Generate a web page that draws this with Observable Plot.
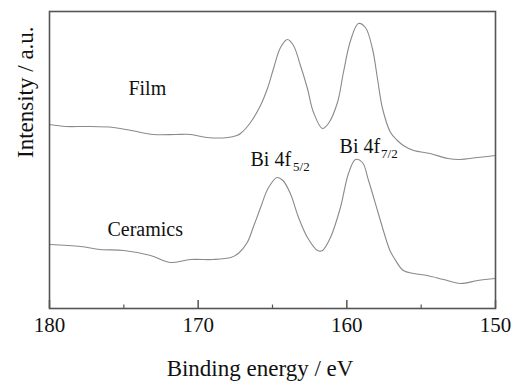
<!DOCTYPE html>
<html>
<head>
<meta charset="utf-8">
<script src="https://cdn.jsdelivr.net/npm/d3@7"></script>
<script src="https://cdn.jsdelivr.net/npm/@observablehq/plot@0.6"></script>
<style>
  html, body { margin: 0; padding: 0; background: #fff; }
  svg text { font-family: 'Liberation Serif', 'Times New Roman', Times, serif; }
</style>
</head>
<body>
<div id="chart"></div>
<script>
// Film spectrum: binding energy (eV) and intensity (a.u.)
const filmEnergy = [180.0, 178.9, 177.5, 175.7, 174.5, 173.0, 171.5, 170.5, 169.4, 168.0, 167.4, 167.15, 166.48, 165.81, 165.34, 164.93, 164.46, 163.99, 163.59, 163.12, 162.65, 162.24, 161.64, 161.24, 160.63, 160.23, 159.75, 159.22, 158.75, 158.28, 157.94, 157.60, 157.06, 156.6, 156.2, 155.5, 154.4, 153.2, 152.4, 151.2, 150.0];
const filmIntensity = [184, 182, 182, 181, 178, 174, 174, 174, 171, 171, 173, 175, 186, 203, 220, 240, 261, 269, 263, 243, 220, 196, 180, 185, 206, 236, 268, 285, 281, 260, 230, 200, 176, 168, 163, 158, 155, 150, 149, 151, 153];

// Ceramics spectrum
const ceramicsEnergy = [180.0, 177.9, 176.6, 175.0, 173.2, 171.9, 170.5, 169.0, 167.8, 167.3, 166.7, 166.3, 165.8, 165.3, 164.7, 164.3, 163.8, 163.25, 162.65, 161.97, 161.64, 161.10, 160.43, 159.89, 159.42, 158.95, 158.54, 157.94, 157.40, 157.1, 156.8, 156.2, 155.5, 154.6, 153.5, 152.35, 151.2, 150.0];
const ceramicsIntensity = [64, 62, 59, 58, 53, 46, 49, 49, 51, 55, 66, 81, 101, 120, 131, 128, 115, 91, 71, 58, 58, 71, 101, 135, 149, 146, 128, 98, 71, 58, 50, 38, 35, 33, 29, 25, 28, 30];

// Axis ticks
const majorTicks = [180, 170, 160, 150];
const minorTicks = [175, 165, 155];

// Curve labels (energy, intensity at text baseline)
const curveLabels = ["Film", "Ceramics"];
const curveLabelEnergy = [174.69, 176.10];
const curveLabelIntensity = [214, 73];

// Peak labels: main text and subscript
const peakLabels = ["Bi 4f", "Bi 4f"];
const peakLabelEnergy = [166.48, 160.49];
const peakLabelIntensity = [143, 156];
const peakSubs = ["5/2", "7/2"];
const peakSubEnergy = [163.62, 157.70];
const peakSubIntensity = [138, 151];

const film = filmEnergy.map((e, i) => ({e, v: filmIntensity[i]}));
const ceramics = ceramicsEnergy.map((e, i) => ({e, v: ceramicsIntensity[i]}));
const cLabels = curveLabels.map((t, i) => ({t, e: curveLabelEnergy[i], v: curveLabelIntensity[i]}));
const pLabels = peakLabels.map((t, i) => ({t, e: peakLabelEnergy[i], v: peakLabelIntensity[i]}));
const pSubs = peakSubs.map((t, i) => ({t, e: peakSubEnergy[i], v: peakSubIntensity[i]}));

const serif = "'Liberation Serif', 'Times New Roman', Times, serif";
const curveColor = "#8a8a8a";
const frameColor = "#555";

const chart = Plot.plot({
  width: 512,
  height: 381,
  marginLeft: 49,
  marginRight: 17,
  marginTop: 11,
  marginBottom: 73,
  style: {fontFamily: serif, background: "#fff", color: "#111"},
  x: {domain: [180, 150], axis: null},
  y: {domain: [0, 297], axis: null},
  marks: [
    Plot.line(film, {x: "e", y: "v", stroke: curveColor, strokeWidth: 1.1, curve: "catmull-rom"}),
    Plot.line(ceramics, {x: "e", y: "v", stroke: curveColor, strokeWidth: 1.1, curve: "catmull-rom"}),
    Plot.ruleX(majorTicks, {x: d => d, y1: 0, y2: 8, stroke: frameColor, strokeWidth: 1.5}),
    Plot.ruleX(minorTicks, {x: d => d, y1: 0, y2: 3.5, stroke: frameColor, strokeWidth: 1.2}),
    Plot.text(majorTicks, {x: d => d, text: d => String(d), frameAnchor: "bottom", lineAnchor: "top", dy: 9, fontSize: 21, fontFamily: serif, fill: "#111"}),
    Plot.frame({stroke: frameColor, strokeWidth: 1.6}),
    Plot.text(cLabels, {x: "e", y: "v", text: "t", textAnchor: "start", lineAnchor: "bottom", fontSize: 20, fontFamily: serif, fill: "#111"}),
    Plot.text(pLabels, {x: "e", y: "v", text: "t", textAnchor: "start", lineAnchor: "bottom", fontSize: 20, fontFamily: serif, fill: "#111"}),
    Plot.text(pSubs, {x: "e", y: "v", text: "t", textAnchor: "start", lineAnchor: "bottom", fontSize: 13, fontFamily: serif, fill: "#111"}),
    Plot.text(["Binding energy / eV"], {frameAnchor: "bottom", lineAnchor: "bottom", dy: 67, dx: -12.5, fontSize: 23, fontFamily: serif, fill: "#111"}),
    Plot.text(["Intensity / a.u."], {frameAnchor: "left", rotate: -90, lineAnchor: "middle", dx: -23.4, dy: -2, fontSize: 23, fontFamily: serif, fill: "#111"})
  ]
});
document.getElementById("chart").appendChild(chart);
</script>
</body>
</html>
